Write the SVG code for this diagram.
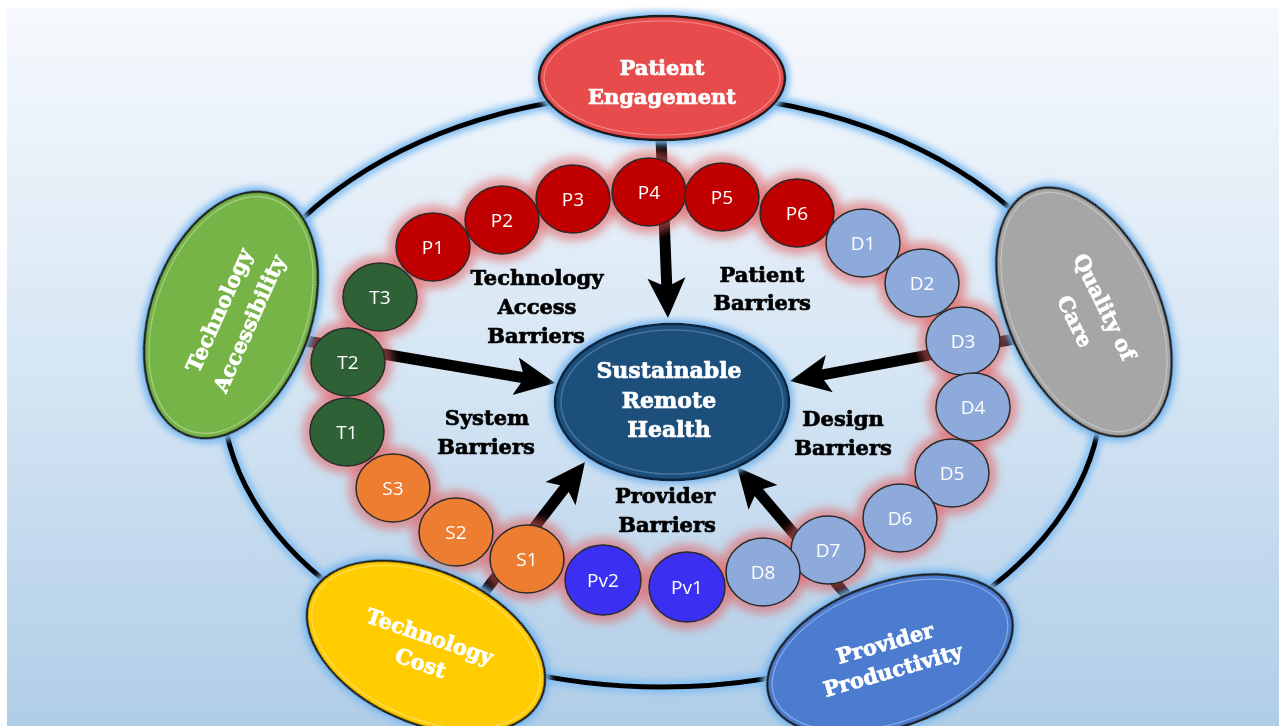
<svg xmlns="http://www.w3.org/2000/svg" width="1279" height="726" viewBox="0 0 1279 726">
<defs>
<linearGradient id="bg" x1="0" y1="0" x2="0" y2="1">
<stop offset="0" stop-color="#f6f9fd"/>
<stop offset="0.5" stop-color="#d6e6f4"/>
<stop offset="1" stop-color="#b0cde7"/>
</linearGradient>
<filter id="blueGlow" x="-20%" y="-20%" width="140%" height="140%">
<feMorphology in="SourceAlpha" operator="dilate" radius="3" result="d"/>
<feGaussianBlur in="d" stdDeviation="3" result="b"/>
<feFlood flood-color="#7db9ef"/>
<feComposite in2="b" operator="in" result="g"/>
<feMerge><feMergeNode in="g"/><feMergeNode in="SourceGraphic"/></feMerge>
</filter>
<filter id="redGlow" x="-10%" y="-10%" width="120%" height="120%">
<feGaussianBlur stdDeviation="4"/>
</filter>
<filter id="ringGlow" x="-10%" y="-10%" width="120%" height="120%">
<feGaussianBlur stdDeviation="3"/>
</filter>
<marker id="ah" markerUnits="userSpaceOnUse" viewBox="0 0 40 40" markerWidth="40" markerHeight="40" refX="22" refY="20" orient="auto">
<path d="M0,1 L40,20 L0,39 L9,20 Z" fill="#000"/>
</marker>
<style>
.ring{fill:none;stroke:#000;stroke-width:5}
.ringglow{fill:none;stroke:#86c0f2;stroke-width:13;filter:url(#ringGlow)}
.outer{stroke:#1a1a1a;stroke-width:2.5}
.inner{fill:none;stroke:#ffffff;stroke-opacity:0.35;stroke-width:1.2}
.otxt{font-family:"DejaVu Serif","Liberation Serif",serif;font-weight:bold;font-size:21px;fill:#fff;stroke:#fff;stroke-width:0.7;text-anchor:middle}
.ltxt{font-family:"DejaVu Serif","Liberation Serif",serif;font-weight:bold;font-size:21px;fill:#000;stroke:#000;stroke-width:0.7;text-anchor:middle}
.bead{stroke:#2a2a2a;stroke-width:1.5}
.btxt{font-family:"Open Sans","Liberation Sans",sans-serif;font-size:19px;fill:#fff;text-anchor:middle}
.P{fill:#c00000}
.D{fill:#8eaadb}
.T{fill:#2f6137}
.S{fill:#ed7d31}
.V{fill:#3b2ff2}
.arrow{stroke:#000;stroke-width:11;fill:none;marker-end:url(#ah)}
.glow{fill:#e35d5d;opacity:0.55}
</style>
</defs>

<rect x="0" y="0" width="1279" height="726" fill="#ffffff"/>
<rect x="7" y="8" width="1272" height="718" fill="url(#bg)"/>

<g id="ring">
<ellipse class="ringglow" cx="662" cy="390" rx="440" ry="297"/>
<ellipse class="ring" cx="662" cy="390" rx="440" ry="297"/>
</g>

<g id="connectors">
<line class="arrow" x1="661" y1="138" x2="667.3" y2="300"/>
<line class="arrow" x1="300" y1="340" x2="537.3" y2="380"/>
<line class="arrow" x1="1020" y1="338" x2="807.7" y2="377.7"/>
<line class="arrow" x1="482" y1="595" x2="574" y2="476.2"/>
<line class="arrow" x1="848" y1="597" x2="748.7" y2="480.7"/>
</g>

<g id="bead-glow" filter="url(#redGlow)">
<ellipse class="glow" cx="433" cy="247" rx="45" ry="42"/>
<ellipse class="glow" cx="502" cy="220" rx="45" ry="42"/>
<ellipse class="glow" cx="573" cy="199" rx="45" ry="42"/>
<ellipse class="glow" cx="649" cy="192" rx="45" ry="42"/>
<ellipse class="glow" cx="722" cy="197" rx="45" ry="42"/>
<ellipse class="glow" cx="797" cy="213" rx="45" ry="42"/>
<ellipse class="glow" cx="863" cy="243" rx="45" ry="42"/>
<ellipse class="glow" cx="922" cy="283" rx="45" ry="42"/>
<ellipse class="glow" cx="963" cy="341" rx="45" ry="42"/>
<ellipse class="glow" cx="973" cy="407" rx="45" ry="42"/>
<ellipse class="glow" cx="952" cy="473" rx="45" ry="42"/>
<ellipse class="glow" cx="900" cy="518" rx="45" ry="42"/>
<ellipse class="glow" cx="828" cy="550" rx="45" ry="42"/>
<ellipse class="glow" cx="763" cy="572" rx="45" ry="42"/>
<ellipse class="glow" cx="687" cy="587" rx="46" ry="43"/>
<ellipse class="glow" cx="603" cy="580" rx="46" ry="43"/>
<ellipse class="glow" cx="527" cy="559" rx="45" ry="42"/>
<ellipse class="glow" cx="456" cy="532" rx="45" ry="42"/>
<ellipse class="glow" cx="393" cy="488" rx="45" ry="42"/>
<ellipse class="glow" cx="347" cy="432" rx="45" ry="42"/>
<ellipse class="glow" cx="348" cy="362" rx="45" ry="42"/>
<ellipse class="glow" cx="380" cy="297" rx="45" ry="42"/>
</g>

<g id="P1"><ellipse class="bead P" cx="433" cy="247" rx="37" ry="34"/><text class="btxt" x="433" y="254">P1</text></g>
<g id="P2"><ellipse class="bead P" cx="502" cy="220" rx="37" ry="34"/><text class="btxt" x="502" y="227">P2</text></g>
<g id="P3"><ellipse class="bead P" cx="573" cy="199" rx="37" ry="34"/><text class="btxt" x="573" y="206">P3</text></g>
<g id="P4"><ellipse class="bead P" cx="649" cy="192" rx="37" ry="34"/><text class="btxt" x="649" y="199">P4</text></g>
<g id="P5"><ellipse class="bead P" cx="722" cy="197" rx="37" ry="34"/><text class="btxt" x="722" y="204">P5</text></g>
<g id="P6"><ellipse class="bead P" cx="797" cy="213" rx="37" ry="34"/><text class="btxt" x="797" y="220">P6</text></g>
<g id="D1"><ellipse class="bead D" cx="863" cy="243" rx="37" ry="34"/><text class="btxt" x="863" y="250">D1</text></g>
<g id="D2"><ellipse class="bead D" cx="922" cy="283" rx="37" ry="34"/><text class="btxt" x="922" y="290">D2</text></g>
<g id="D3"><ellipse class="bead D" cx="963" cy="341" rx="37" ry="34"/><text class="btxt" x="963" y="348">D3</text></g>
<g id="D4"><ellipse class="bead D" cx="973" cy="407" rx="37" ry="34"/><text class="btxt" x="973" y="414">D4</text></g>
<g id="D5"><ellipse class="bead D" cx="952" cy="473" rx="37" ry="34"/><text class="btxt" x="952" y="480">D5</text></g>
<g id="D6"><ellipse class="bead D" cx="900" cy="518" rx="37" ry="34"/><text class="btxt" x="900" y="525">D6</text></g>
<g id="D7"><ellipse class="bead D" cx="828" cy="550" rx="37" ry="34"/><text class="btxt" x="828" y="557">D7</text></g>
<g id="D8"><ellipse class="bead D" cx="763" cy="572" rx="37" ry="34"/><text class="btxt" x="763" y="579">D8</text></g>
<g id="Pv1"><ellipse class="bead V" cx="687" cy="587" rx="38" ry="35"/><text class="btxt" x="687" y="594">Pv1</text></g>
<g id="Pv2"><ellipse class="bead V" cx="603" cy="580" rx="38" ry="35"/><text class="btxt" x="603" y="587">Pv2</text></g>
<g id="S1"><ellipse class="bead S" cx="527" cy="559" rx="37" ry="34"/><text class="btxt" x="527" y="566">S1</text></g>
<g id="S2"><ellipse class="bead S" cx="456" cy="532" rx="37" ry="34"/><text class="btxt" x="456" y="539">S2</text></g>
<g id="S3"><ellipse class="bead S" cx="393" cy="488" rx="37" ry="34"/><text class="btxt" x="393" y="495">S3</text></g>
<g id="T1"><ellipse class="bead T" cx="347" cy="432" rx="37" ry="34"/><text class="btxt" x="347" y="439">T1</text></g>
<g id="T2"><ellipse class="bead T" cx="348" cy="362" rx="37" ry="34"/><text class="btxt" x="348" y="369">T2</text></g>
<g id="T3"><ellipse class="bead T" cx="380" cy="297" rx="37" ry="34"/><text class="btxt" x="380" y="304">T3</text></g>

<g id="patient-engagement">
<ellipse class="outer" cx="662" cy="78" rx="123" ry="62" fill="#e84b4c" filter="url(#blueGlow)"/>
<ellipse class="inner" cx="662" cy="78" rx="118" ry="57"/>
<text class="otxt" x="662" y="75">Patient</text>
<text class="otxt" x="662" y="104">Engagement</text>
</g>

<g id="technology-accessibility">
<g transform="translate(231,315) rotate(20)">
<ellipse class="outer" cx="0" cy="0" rx="80" ry="128" fill="#77b447" filter="url(#blueGlow)"/>
<ellipse class="inner" cx="0" cy="0" rx="75" ry="123"/>
</g>
<g transform="translate(234,317) rotate(-66)">
<text class="otxt" x="0" y="-9">Technology</text>
<text class="otxt" x="0" y="24">Accessibility</text>
</g>
</g>

<g id="quality-of-care">
<g transform="translate(1084,312) rotate(-24)">
<ellipse class="outer" cx="0" cy="0" rx="76" ry="132" fill="#a6a6a6" filter="url(#blueGlow)"/>
<ellipse class="inner" cx="0" cy="0" rx="71" ry="127"/>
</g>
<g transform="translate(1090,314) rotate(64)">
<text class="otxt" x="0" y="-9">Quality of</text>
<text class="otxt" x="0" y="24">Care</text>
</g>
</g>

<g id="technology-cost">
<g transform="translate(426,647) rotate(24)">
<ellipse class="outer" cx="0" cy="0" rx="126" ry="76" fill="#ffcc00" filter="url(#blueGlow)"/>
<ellipse class="inner" cx="0" cy="0" rx="121" ry="71"/>
</g>
<g transform="translate(425,650) rotate(19)">
<text class="otxt" x="0" y="-7">Technology</text>
<text class="otxt" x="0" y="21">Cost</text>
</g>
</g>

<g id="provider-productivity">
<g transform="translate(890,655) rotate(-20)">
<ellipse class="outer" cx="0" cy="0" rx="128" ry="72" fill="#4c7bd0" filter="url(#blueGlow)"/>
<ellipse class="inner" cx="0" cy="0" rx="123" ry="67"/>
</g>
<g transform="translate(889,657) rotate(-16)">
<text class="otxt" x="0" y="-7">Provider</text>
<text class="otxt" x="0" y="21">Productivity</text>
</g>
</g>

<g id="sustainable-remote-health">
<ellipse cx="672" cy="402" rx="117" ry="78" fill="#1f4f7b" stroke="#0d2740" stroke-width="2.5" filter="url(#blueGlow)"/>
<ellipse cx="672" cy="402" rx="111" ry="72" fill="none" stroke="#6f9cc6" stroke-opacity="0.5" stroke-width="1.5"/>
<text class="otxt" x="669" y="378" style="font-size:22px">Sustainable</text>
<text class="otxt" x="669" y="408" style="font-size:22px">Remote</text>
<text class="otxt" x="669" y="437" style="font-size:22px">Health</text>
</g>

<g id="labels">
<text class="ltxt" x="537" y="285">Technology</text>
<text class="ltxt" x="537" y="314">Access</text>
<text class="ltxt" x="536" y="343">Barriers</text>
<text class="ltxt" x="762" y="282">Patient</text>
<text class="ltxt" x="762" y="310">Barriers</text>
<text class="ltxt" x="487" y="425">System</text>
<text class="ltxt" x="486" y="454">Barriers</text>
<text class="ltxt" x="843" y="426">Design</text>
<text class="ltxt" x="843" y="455">Barriers</text>
<text class="ltxt" x="665" y="503">Provider</text>
<text class="ltxt" x="667" y="532">Barriers</text>
</g>
</svg>
